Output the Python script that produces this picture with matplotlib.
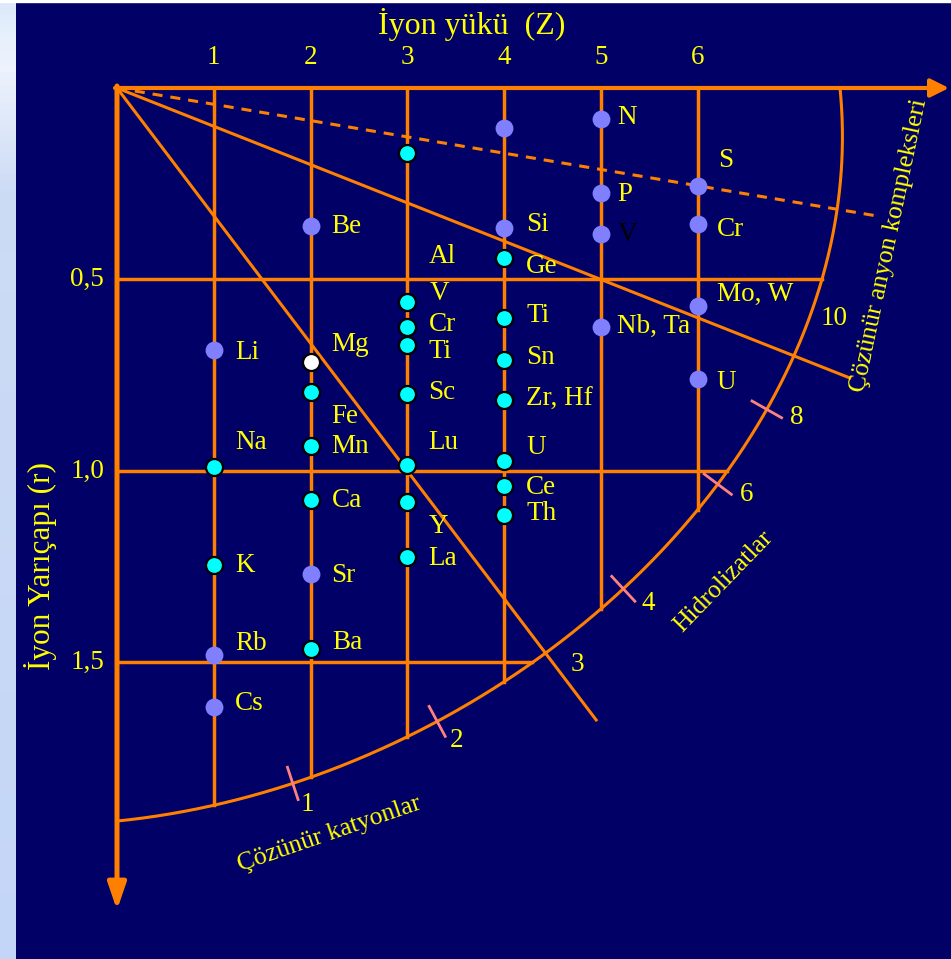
import numpy as np
import matplotlib
matplotlib.use("Agg")
import matplotlib.pyplot as plt

plt.rcParams['font.family'] = ['Liberation Serif', 'DejaVu Serif']

NAVY = '#000066'
ORANGE = '#FF8000'
YELLOW = '#FFFF00'
PINK = '#FF8080'
LAVENDER = '#8080FF'
CYAN = '#00FFFF'

# axes: ion charge Z (top) and ion radius r (down)
z_ticks = [1, 2, 3, 4, 5, 6]
r_ticks = [0.5, 1.0, 1.5]
r_tick_labels = ['0,5', '1,0', '1,5']

# ions shown as plain lavender dots
lav_names = ['N', '', 'P', 'V', 'S', 'Cr', 'Be', 'Si', 'Mo, W', 'Nb, Ta', 'U', 'Li', 'Sr', 'Rb', 'Cs']
lav_z = [5, 4, 5, 5, 6, 6, 2, 4, 6, 5, 6, 1, 2, 1, 1]
lav_r = [0.08, 0.105, 0.275, 0.38, 0.255, 0.355, 0.36, 0.365, 0.57, 0.625, 0.76, 0.685, 1.27, 1.48, 1.615]

# ions shown as cyan dots
cyan_names = ['', 'Ge', 'V', 'Cr', 'Ti', 'Sc', 'Lu', 'Y', 'La', 'Ti', 'Sn', 'Zr, Hf', 'U', 'Ce', 'Th',
              'Fe', 'Mn', 'Ca', 'Ba', 'Na', 'K']
cyan_z = [3, 4, 3, 3, 3, 3, 3, 3, 3, 4, 4, 4, 4, 4, 4, 2, 2, 2, 2, 1, 1]
cyan_r = [0.17, 0.445, 0.56, 0.625, 0.67, 0.80, 0.985, 1.08, 1.225, 0.60, 0.71, 0.815, 0.975, 1.04, 1.115,
          0.795, 0.935, 1.075, 1.465, 0.99, 1.245]

# Mg (white dot) and Al (label only)
mg_z, mg_r = 2, 0.715
al_z, al_r = 3, 0.44

# ionic potential Z/r boundaries
ratio_lines = [3, 10]
ratio_ticks = [1, 2, 4, 6, 8]
dotted_ratio = 23.5

# outer boundary curve, cubic Bezier control points in (Z, r)
arc_ctrl_z = [7.469, 7.841, 4.019, 0.0]
arc_ctrl_r = [0.0, 0.940, 1.812, 1.914]

# label offsets in pixels (right, down)
lav_off = [(16, -1), None, (16, 1), (17, 1), (20, -25), (19, 6), (21, 1), (22, -3), (19, -12),
           (16, -1), (19, 3), (21, 2), (21, 1), (21, -11), (21, -3)]
cyan_off = [None, (22, 8), (22, -9), (21, -3), (21, 7), (21, -2), (21, -23), (21, 25), (21, 1),
            (22, -2), (22, -2), (22, -1), (22, -14), (22, 1), (22, -2), (21, 24), (21, 0), (21, 1),
            (22, -7), (21, -25), (21, 1)]

W, H = 951, 959
X0, Y0, SX, SY = 117, 88, 96.8, 383.0
FS = 19.5


def px(x, y):
    return (x - X0) / SX, (y - Y0) / SY


fig = plt.figure(figsize=(W / 100, H / 100), dpi=100, facecolor=NAVY)

# pale blue strip on the left edge
strip = fig.add_axes([0, 0, 16 / W, 1])
yy = np.linspace(0, 1, 200)
stops_y = [0, 0.03, 0.07, 0.2, 1]
cols = np.array([[0.86, 0.91, 0.98], [0.90, 0.94, 0.99], [0.93, 0.95, 0.99], [0.80, 0.86, 0.96], [0.77, 0.84, 0.97]])
grad = np.stack([np.interp(yy, stops_y, cols[:, i]) for i in range(3)], axis=-1)[:, None, :]
strip.imshow(grad, aspect='auto', extent=[0, 1, 1, 0])
strip.axis('off')
fig.add_artist(plt.Rectangle((0, 1 - 2 / H), 1, 2 / H, transform=fig.transFigure, color='white'))

ax = fig.add_axes([0, 0, 1, 1])
ax.set_xlim(-X0 / SX, (W - X0) / SX)
ax.set_ylim((H - Y0) / SY, -Y0 / SY)
ax.axis('off')

# boundary curve
t = np.linspace(0, 1, 4001)


def bez(c, tt):
    return (1 - tt) ** 3 * c[0] + 3 * (1 - tt) ** 2 * tt * c[1] + 3 * (1 - tt) * tt ** 2 * c[2] + tt ** 3 * c[3]


def dbez(c, tt):
    return 3 * (1 - tt) ** 2 * (c[1] - c[0]) + 6 * (1 - tt) * tt * (c[2] - c[1]) + 3 * tt ** 2 * (c[3] - c[2])


arc_z = bez(arc_ctrl_z, t)
arc_r = bez(arc_ctrl_r, t)
ax.plot(arc_z, arc_r, color=ORANGE, lw=2.2, zorder=2)

# grid lines stopping at the boundary
for z in z_ticks:
    i = np.where(arc_z <= z)[0][0]
    ax.plot([z, z], [0, arc_r[i]], color=ORANGE, lw=2.5, zorder=2)
for r in r_ticks:
    ax.plot([0, np.interp(r, arc_r, arc_z)], [r, r], color=ORANGE, lw=2.5, zorder=2)

# Z/r lines from the origin
for k, zend in zip(ratio_lines, [4.95, 7.57]):
    ax.plot([0, zend], [0, zend / k], color=ORANGE, lw=2.2, zorder=2)
ax.plot([0, 7.85], [0, 7.85 / dotted_ratio], color=ORANGE, lw=2.2, dashes=(3.3, 2.6), zorder=2)


def hit(k):
    tk = np.interp(0, arc_r - arc_z / k, t)
    cz, cr = bez(arc_ctrl_z, tk), bez(arc_ctrl_r, tk)
    dz, dr = dbez(arc_ctrl_z, tk) * SX, dbez(arc_ctrl_r, tk) * SY
    n = np.array([dr, -dz]) / np.hypot(dz, dr)
    return cz, cr, n


# pink ticks across the boundary
for k in ratio_ticks:
    cz, cr, n = hit(k)
    ax.plot([cz - n[0] * 17 / SX, cz + n[0] * 17 / SX], [cr - n[1] * 17 / SY, cr + n[1] * 17 / SY],
            color=PINK, lw=2, zorder=3)
    ax.text(cz + (n[0] * 28 + 6) / SX, cr + (n[1] * 28 - 6) / SY, str(k), color=YELLOW,
            fontsize=FS, ha='center', va='center')
for k, off in zip(ratio_lines, [(32, 11), (40, -37)]):
    cz, cr, n = hit(k)
    ax.text(cz + off[0] / SX, cr + off[1] / SY, str(k), color=YELLOW, fontsize=FS, ha='center', va='center')

# main axes with arrows
ax.annotate('', xy=px(949, 88), xytext=px(115, 88),
            arrowprops=dict(arrowstyle='-|>,head_length=1.1,head_width=0.55', color=ORANGE, lw=3,
                            shrinkA=0, shrinkB=0, mutation_scale=10), zorder=4)
ax.annotate('', xy=px(117, 910), xytext=px(117, 86),
            arrowprops=dict(arrowstyle='-|>,head_length=1.6,head_width=0.55', color=ORANGE, lw=3.6,
                            shrinkA=0, shrinkB=0, mutation_scale=10), zorder=4)

# tick labels and titles
for z in z_ticks:
    ax.text(z, px(0, 58)[1], str(z), color=YELLOW, fontsize=FS, ha='center', va='center')
for r, lab in zip(r_ticks, r_tick_labels):
    ax.text(px(104, 0)[0], r, lab, color=YELLOW, fontsize=FS, ha='right', va='center')
ax.text(*px(472, 25), 'İyon yükü  (Z)', color=YELLOW, fontsize=23, ha='center', va='center')
ax.text(*px(40, 566), 'İyon Yarıçapı (r)', color=YELLOW, fontsize=22.5, ha='center', va='center',
        rotation=90)
ax.text(*px(329, 834), 'Çözünür katyonlar', color=YELLOW, fontsize=18.5, ha='center', va='center',
        rotation=19, rotation_mode='anchor')
ax.text(*px(724, 582), 'Hidrolizatlar', color=YELLOW, fontsize=18.5, ha='center', va='center',
        rotation=46, rotation_mode='anchor')
ax.text(*px(889, 245), 'Çözünür anyon kompleksleri', color=YELLOW, fontsize=18.5, ha='center',
        va='center', rotation=78, rotation_mode='anchor')

# ion dots
ax.scatter(lav_z, lav_r, s=165, color=LAVENDER, linewidths=0, zorder=5)
ax.scatter(cyan_z, cyan_r, s=150, color=CYAN, edgecolors='black', linewidths=1.6, zorder=5)
ax.scatter([mg_z], [mg_r], s=150, color='white', edgecolors='black', linewidths=1.6, zorder=5)


def label(name, z, r, off, color=YELLOW):
    ax.text(z + off[0] / SX, r + off[1] / SY, name, color=color, fontsize=FS, ha='left', va='center')


for name, z, r, off in zip(lav_names, lav_z, lav_r, lav_off):
    if off is not None:
        label(name, z, r, off, 'black' if (name == 'V') else YELLOW)
for name, z, r, off in zip(cyan_names, cyan_z, cyan_r, cyan_off):
    if off is not None:
        label(name, z, r, off)
label('Mg', mg_z, mg_r, (21, -17))
label('Al', al_z, al_r, (21, 0))

fig.savefig('out.png', dpi=100, facecolor=NAVY)
